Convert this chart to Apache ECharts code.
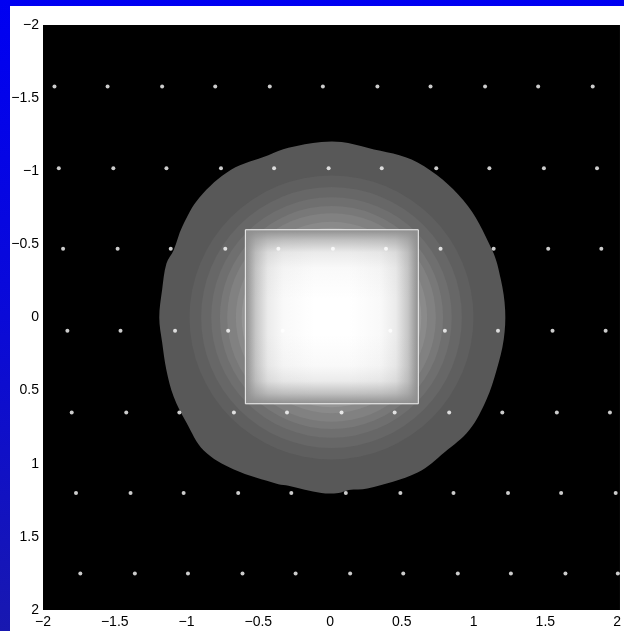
<!DOCTYPE html>
<html>
<head>
<meta charset="utf-8">
<script src="https://cdn.jsdelivr.net/npm/echarts@6/dist/echarts.min.js"></script>
<style>
  html, body { margin: 0; padding: 0; }
  body { width: 624px; height: 631px; overflow: hidden; position: relative;
         background: linear-gradient(to bottom, #0000f2 0%, #0a0ad8 50%, #1818b0 100%); }
  #sheet { position: absolute; left: 10px; top: 6px; right: 0; bottom: 0; background: #fff; }
  #main { position: absolute; left: 0; top: 0; width: 624px; height: 631px; }
</style>
</head>
<body>
<div id="sheet"></div>
<div id="main"></div>
<script>
// axis ticks
const ticks = [-2, -1.5, -1, -0.5, 0, 0.5, 1, 1.5, 2];

// sample points (rows of white dots)
const dotRowY = [-1.58, -1.02, -0.47, 0.09, 0.65, 1.2, 1.75];
const dotRowX = [
    [-1.92, -1.55, -1.17, -0.8, -0.42, -0.05, 0.33, 0.7, 1.08, 1.45, 1.83],
    [-1.89, -1.51, -1.14, -0.76, -0.39, -0.01, 0.36, 0.74, 1.11, 1.49, 1.86],
    [-1.86, -1.48, -1.11, -0.73, -0.36, 0.02, 0.39, 0.77, 1.14, 1.52, 1.89],
    [-1.83, -1.46, -1.08, -0.71, -0.33, 0.05, 0.42, 0.8, 1.17, 1.55, 1.92],
    [-1.8, -1.42, -1.05, -0.67, -0.3, 0.08, 0.45, 0.83, 1.2, 1.58, 1.95],
    [-1.77, -1.39, -1.02, -0.64, -0.27, 0.11, 0.49, 0.86, 1.24, 1.61, 1.99],
    [-1.74, -1.36, -0.99, -0.61, -0.24, 0.14, 0.51, 0.89, 1.26, 1.64, 2.005]
];

// outer edge of the grey field
const fieldEdge = [
    [-0.06, -1.2], [0.08, -1.2], [0.26, -1.16], [0.61, -1.06], [0.93, -0.8],
    [1.13, -0.46], [1.19, -0.26], [1.22, -0.05], [1.21, 0.15], [1.16, 0.36],
    [1.09, 0.56], [0.97, 0.77], [0.8, 0.92], [0.61, 1.06], [0.26, 1.17],
    [0.13, 1.18], [0.06, 1.2], [-0.06, 1.2], [-0.29, 1.15], [-0.36, 1.14],
    [-0.67, 1.04], [-0.88, 0.91], [-1.0, 0.72], [-1.09, 0.54], [-1.14, 0.36],
    [-1.17, 0.17], [-1.19, 0.0], [-1.17, -0.19], [-1.14, -0.37], [-1.09, -0.46],
    [-1.03, -0.62], [-0.91, -0.82], [-0.69, -1.01], [-0.43, -1.11], [-0.29, -1.16]
];
const fieldGrey = '#585858';

// inner contour bands (radius, grey)
const bandRadius = [0.98, 0.9, 0.83, 0.77, 0.72, 0.66, 0.62];
const bandGrey = ['#5f5f5f', '#676767', '#6f6f6f', '#787878', '#818181', '#8a8a8a', '#949494'];
const bandCenter = [0.01, 0.0];

// bright square [x0, y0, x1, y1]
const squareBox = [-0.59, -0.6, 0.615, 0.59];

const myChart = echarts.init(document.getElementById('main'), null, { renderer: 'canvas' });

const labelFont = "'Liberation Sans', Arial, sans-serif";
function tickText(v) {
    if (ticks.indexOf(Math.round(v * 100) / 100) < 0) return '';
    return String(v).replace('-', '\u2212');
}

let dots = [];
dotRowY.forEach(function (y, i) {
    dotRowX[i].forEach(function (x) { dots.push([x, y]); });
});

var option = {
    animation: false,
    backgroundColor: 'transparent',
    grid: {
        left: 43, top: 25, right: 0, bottom: 21,
        show: true, backgroundColor: '#000', borderWidth: 0
    },
    xAxis: {
        type: 'value', min: -2, max: 2.02, interval: 0.5,
        axisLine: { show: false }, axisTick: { show: false }, splitLine: { show: false },
        axisLabel: { color: '#000', fontSize: 14, fontFamily: labelFont, margin: 5, formatter: tickText }
    },
    yAxis: {
        type: 'value', min: -2, max: 2, interval: 0.5, inverse: true,
        axisLine: { show: false }, axisTick: { show: false }, splitLine: { show: false },
        axisLabel: { color: '#000', fontSize: 14, fontFamily: labelFont, margin: 4, formatter: tickText }
    },
    series: [
        {
            // outer grey region
            type: 'custom',
            silent: true,
            data: [0],
            renderItem: function (params, api) {
                return {
                    type: 'polygon',
                    shape: { points: fieldEdge.map(function (p) { return api.coord(p); }), smooth: 0.35 },
                    style: { fill: fieldGrey }
                };
            }
        },
        {
            // contour bands
            type: 'custom',
            silent: true,
            data: bandRadius.map(function (r, i) { return [r, i]; }),
            renderItem: function (params, api) {
                const r = api.value(0);
                const c = api.coord(bandCenter);
                const s = api.size([r, r]);
                return {
                    type: 'circle',
                    shape: { cx: c[0], cy: c[1], r: (s[0] + s[1]) / 2 },
                    style: { fill: bandGrey[api.value(1)] }
                };
            }
        },
        {
            // bright square
            type: 'custom',
            silent: true,
            data: [squareBox],
            renderItem: function (params, api) {
                const p0 = api.coord([api.value(0), api.value(1)]);
                const p1 = api.coord([api.value(2), api.value(3)]);
                const rect = { x: p0[0], y: p0[1], width: p1[0] - p0[0], height: p1[1] - p0[1] };
                return {
                    type: 'group',
                    children: [
                        {
                            type: 'rect', shape: rect,
                            style: {
                                fill: new echarts.graphic.LinearGradient(0, 0, 1, 0, [
                                    { offset: 0, color: '#8e8e8e' },
                                    { offset: 0.06, color: '#c6c6c6' },
                                    { offset: 0.13, color: '#ebebeb' },
                                    { offset: 0.22, color: '#f9f9f9' },
                                    { offset: 0.4, color: '#ffffff' },
                                    { offset: 0.6, color: '#ffffff' },
                                    { offset: 0.78, color: '#f9f9f9' },
                                    { offset: 0.87, color: '#ebebeb' },
                                    { offset: 0.94, color: '#c6c6c6' },
                                    { offset: 1, color: '#8e8e8e' }
                                ])
                            }
                        },
                        {
                            type: 'rect', shape: rect,
                            style: {
                                fill: new echarts.graphic.LinearGradient(0, 0, 0, 1, [
                                    { offset: 0, color: 'rgba(142,142,142,1)' },
                                    { offset: 0.06, color: 'rgba(142,142,142,0.55)' },
                                    { offset: 0.13, color: 'rgba(142,142,142,0.18)' },
                                    { offset: 0.22, color: 'rgba(142,142,142,0.05)' },
                                    { offset: 0.4, color: 'rgba(142,142,142,0)' },
                                    { offset: 0.6, color: 'rgba(142,142,142,0)' },
                                    { offset: 0.78, color: 'rgba(142,142,142,0.05)' },
                                    { offset: 0.87, color: 'rgba(142,142,142,0.18)' },
                                    { offset: 0.94, color: 'rgba(142,142,142,0.55)' },
                                    { offset: 1, color: 'rgba(142,142,142,1)' }
                                ])
                            }
                        },
                        {
                            type: 'rect', shape: rect,
                            style: { fill: 'none', stroke: '#f2f2f2', lineWidth: 1 }
                        }
                    ]
                };
            }
        },
        {
            // sample points
            type: 'scatter',
            symbol: 'circle',
            symbolSize: 4,
            silent: true,
            itemStyle: { color: '#ffffff' },
            data: dots
        }
    ]
};
// 使用刚指定的配置项和数据显示图表。
myChart.setOption(option);
</script>
</body>
</html>
